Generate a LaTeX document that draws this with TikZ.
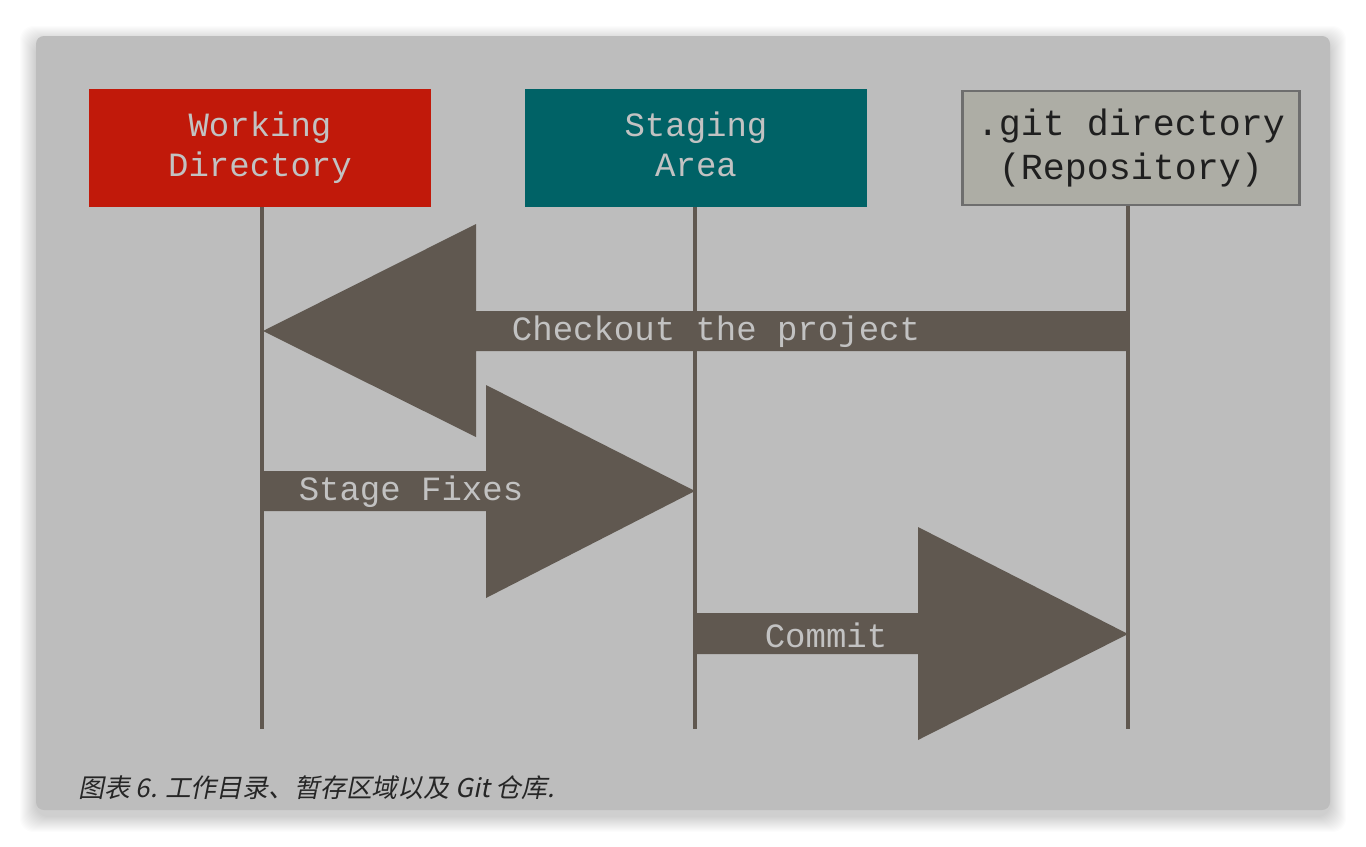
\documentclass[tikz,border=0pt]{standalone}
\usepackage{fontspec}
\usepackage{tikz}
\usetikzlibrary{positioning,calc}
\setmonofont{Liberation Mono}
\newfontfamily\cjk[FakeSlant=0.2]{Noto Sans CJK SC}

\definecolor{panel}{HTML}{BDBDBD}
\definecolor{wdred}{HTML}{C1190A}
\definecolor{stteal}{HTML}{006266}
\definecolor{gitgray}{HTML}{ADADA5}
\definecolor{gitedge}{HTML}{6E6E6E}
\definecolor{flow}{HTML}{605850}
\definecolor{lighttext}{HTML}{C2C2C2}

\begin{document}
\begin{tikzpicture}[x=0.75pt, y=-0.75pt,
    areabox/.style={rectangle, minimum width=256.5pt, minimum height=88.5pt, inner sep=0pt,
        align=center, text=lighttext, font=\ttfamily\fontsize{25.5}{30}\selectfont},
    lifeline/.style={flow, line width=2.3pt},
    bigarrow/.style={fill=flow},
    flowlabel/.style={text=lighttext, font=\ttfamily\fontsize{25.5}{30}\selectfont, inner sep=0pt}]

    % page and panel
    \fill[white] (0,0) rectangle (1366,846);
    \foreach \i in {1,...,16}
        \fill[black, opacity=0.013, rounded corners=10pt] (36-\i,36-\i+6) rectangle (1330+\i,810+\i+6);
    \fill[panel, rounded corners=6pt] (36,36) rectangle (1330,810);

    % the three areas
    \node[areabox, fill=wdred] (wd) at (260,148) {Working\\Directory};
    \node[areabox, fill=stteal] (sa) at (696,148) {Staging\\Area\vphantom{y}};
    \node[areabox, fill=gitgray, draw=gitedge, line width=2.2pt, minimum width=253pt, minimum height=85.5pt,
        text=black!88, font=\ttfamily\fontsize{27.5}{33}\selectfont] (repo) at (1131,148) {.git directory\\(Repository)};

    \coordinate (wd-end) at (262,729);
    \coordinate (sa-end) at (695,729);
    \coordinate (repo-end) at (1128,729);
    \draw[lifeline] (wd.south -| wd-end) -- (wd-end);
    \draw[lifeline] (sa.south -| sa-end) -- (sa-end);
    \draw[lifeline] (repo.south -| repo-end) -- (repo-end);

    % Checkout
    \coordinate (co-tail) at (1128,331);
    \coordinate (co-tip) at (263,331);
    \fill[bigarrow] (co-tip) -- ++(213,-107) -- ++(0,87) -- ($(co-tail)+(0,-20)$)
        -- ($(co-tail)+(0,20)$) -- ($(co-tip)+(213,20)$) -- ++(0,86) -- cycle;
    \node[flowlabel] (co) at (716,332) {Checkout the project};

    % Stage Fixes
    \coordinate (sf-tail) at (263,491);
    \coordinate (sf-tip) at (695,491);
    \fill[bigarrow] (sf-tip) -- ++(-209,-106) -- ++(0,86) -- ($(sf-tail)+(0,-20)$)
        -- ($(sf-tail)+(0,20)$) -- ($(sf-tip)+(-209,20)$) -- ++(0,87) -- cycle;
    \node[flowlabel] (sf) at (411,492) {Stage Fixes};

    % Commit
    \coordinate (cm-tail) at (696,634);
    \coordinate (cm-tip) at (1128,634);
    \fill[bigarrow] (cm-tip) -- ++(-210,-107) -- ++(0,86) -- ($(cm-tail)+(0,-21)$)
        -- ($(cm-tail)+(0,20)$) -- ($(cm-tip)+(-210,20)$) -- ++(0,86) -- cycle;
    \node[flowlabel] (cm) at (826,635) {Commit};

    % caption
    \node[anchor=base west, inner sep=0pt, text=black!85, font=\cjk\fontsize{19.4}{22}\selectfont] (cap) at (78,797)
        {图表 6. 工作目录、暂存区域以及 Git 仓库.};
\end{tikzpicture}
\end{document}
